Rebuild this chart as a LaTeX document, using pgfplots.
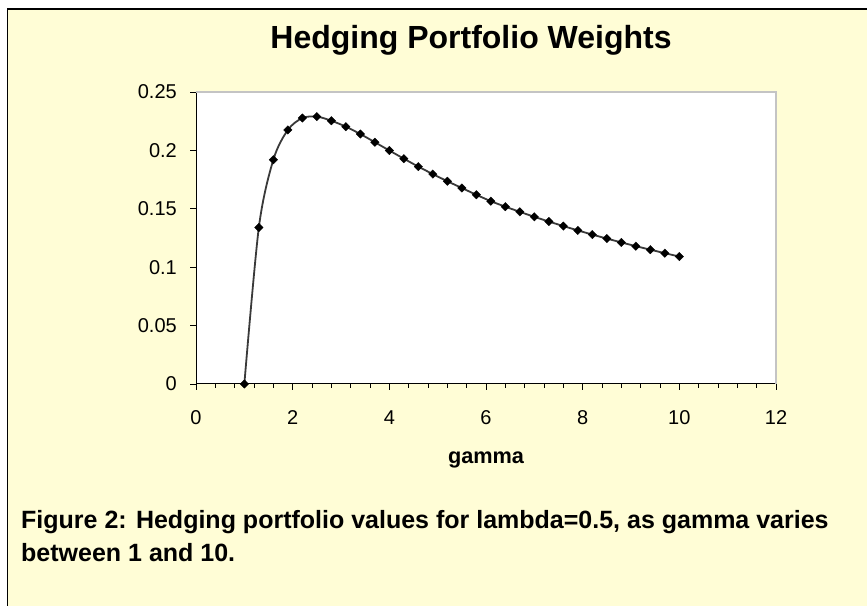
\documentclass[border=0pt]{standalone}
\usepackage{pgfplots}
\pgfplotsset{compat=1.18}
\usepackage{fontspec}
\setmainfont{Liberation Sans}
\definecolor{bgyellow}{HTML}{FFFDD6}
\definecolor{plotgray}{HTML}{C4C4C4}
\definecolor{linegray}{HTML}{3A3A3A}
\pgfplotstableread{
g w
1.0 0.0
1.3 0.134
1.6 0.192
1.9 0.2175
2.2 0.2277
2.5 0.2289
2.8 0.2254
3.1 0.2203
3.4 0.2140
3.7 0.2070
4.0 0.1999
4.3 0.1929
4.6 0.1861
4.9 0.1797
5.2 0.1736
5.5 0.1678
5.8 0.1620
6.1 0.1565
6.4 0.1518
6.7 0.1474
7.0 0.1431
7.3 0.1391
7.6 0.1352
7.9 0.1315
8.2 0.1279
8.5 0.1245
8.8 0.1212
9.1 0.1180
9.4 0.1150
9.7 0.1120
10.0 0.1091
}\hedging
\begin{document}
\begin{tikzpicture}[x=1bp,y=1bp]
\useasboundingbox (0,0) rectangle (867,606);
\fill[white] (0,0) rectangle (867,606);
\fill[bgyellow] (7.5,0) rectangle (867,597);
\draw[black, line width=1.6bp] (7.5,-2) -- (7.5,597) -- (869,597);
\node[anchor=base, inner sep=0pt, font=\bfseries\fontsize{32bp}{38bp}\selectfont] at (471,557.7) {Hedging Portfolio Weights};
\begin{axis}[
  at={(196bp,222bp)}, anchor=south west,
  width=580bp, height=292bp, scale only axis,
  xmin=0, xmax=12, ymin=0, ymax=0.25,
  axis lines*=left,
  axis line style={-, line width=1bp, black},
  tick align=outside,
  xtick={0,2,...,12},
  ytick={0,0.05,0.1,0.15,0.2,0.25},
  minor x tick num=4,
  major tick length=6bp,
  minor tick length=4bp,
  tick style={black, line width=0.8bp},
  axis background/.style={fill=white},
  /pgf/number format/assume math mode=true,
  ticklabel style={font=\fontsize{20bp}{24bp}\selectfont},
  xticklabel style={anchor=base, inner sep=0pt, yshift=-34.3bp},
  yticklabel style={anchor=east, inner sep=0pt, xshift=-13bp, /pgf/number format/fixed, /pgf/number format/precision=2},
  xlabel={gamma},
  xlabel style={font=\bfseries\fontsize{21.7bp}{26bp}\selectfont, at={(axis description cs:0.5,0)}, anchor=base, yshift=-79.3bp, inner sep=0pt},
  clip=false,
]
\draw[plotgray, line width=2bp] (rel axis cs:0,1) -- (rel axis cs:1,1) -- (rel axis cs:1,0);
\addplot[linegray, line width=1.8bp, smooth, mark=square*, mark size=3bp,
  mark options={rotate=45, fill=black, draw=black, line width=0.3bp, solid}] table[x=g, y=w] {\hedging};
\end{axis}
\node[anchor=base west, inner sep=0pt, font=\bfseries\fontsize{25bp}{30bp}\selectfont] at (21,77) {Figure 2: Hedging portfolio values for lambda=0.5, as gamma varies};
\node[anchor=base west, inner sep=0pt, font=\bfseries\fontsize{25bp}{30bp}\selectfont] at (21,44) {between 1 and 10.};
\end{tikzpicture}
\end{document}
